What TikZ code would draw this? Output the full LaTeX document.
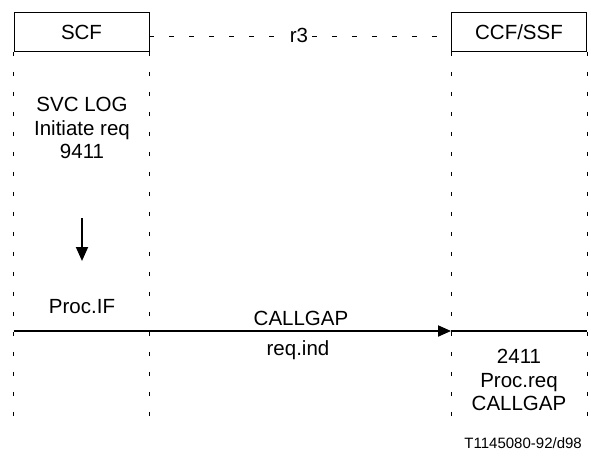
\documentclass[tikz,border=0pt]{standalone}
\usepackage{fontspec}
\setmainfont{Liberation Sans}
\usetikzlibrary{arrows.meta}
\begin{document}
\begin{tikzpicture}[x=1pt,y=-1pt,
  lbl/.style={font=\fontsize{20.5}{23.5}\selectfont, inner sep=0pt, align=center},
  fbox/.style={draw, line width=0.9pt, minimum width=135pt, minimum height=39pt, inner sep=0pt, font=\fontsize{20.5}{23.5}\selectfont},
  life/.style={line width=0.9pt, dash pattern=on 4pt off 16pt},
  r3line/.style={line width=0.6pt, dash pattern=on 5pt off 15pt},
  msg/.style={line width=1.8pt},
  foot/.style={font=\fontsize{15}{18}\selectfont, inner sep=0pt},
]
\useasboundingbox (0,0) rectangle (591,460);
\node[fbox] (scf) at (81.5,32) {SCF};
\node[fbox] (ccf) at (519,32) {CCF/SSF};
% lifeline ends
\coordinate (l1) at (scf.south west |- 0,416);
\coordinate (l2) at (scf.south east |- 0,416);
\coordinate (l3) at (ccf.south west |- 0,416);
\coordinate (l4) at (ccf.south east |- 0,416);
\draw[life] (scf.south west) -- (l1);
\draw[life] (scf.south east) -- (l2);
\draw[life] (ccf.south west) -- (l3);
\draw[life] (ccf.south east) -- (l4);
% r3 interface
\node[lbl, anchor=base, inner xsep=4pt] (r3) at (299,43) {r3};
\coordinate (r3a) at (scf.east |- 0,36);
\coordinate (r3b) at (ccf.west |- 0,36);
\draw[r3line] (r3a) -- (r3.west |- 0,36);
\draw[r3line] (r3.east |- 0,36) -- (r3b);
% SCF texts
\node[lbl] (svc) at (82,128) {SVC LOG\\Initiate req\\9411};
\coordinate (d1) at (82,218);
\coordinate (d2) at (82,261);
\draw[msg, -{Triangle[length=14pt,width=12pt]}] (d1) -- (d2);
\node[lbl, anchor=base] (procif) at (82,313) {Proc.IF};
% message
\coordinate (m1) at (scf.west |- 0,331);
\coordinate (m2) at (ccf.west |- 0,331);
\coordinate (m3) at (ccf.east |- 0,331);
\draw[msg, -{Triangle[length=13pt,width=11pt]}] (m1) -- (m2);
\draw[msg] (m2) -- (m3);
\node[lbl, anchor=base] (cg) at (301,325) {CALLGAP};
\node[lbl, anchor=base] (ri) at (298,355) {req.ind};
% CCF/SSF texts
\node[lbl] (proc) at (519,380) {2411\\Proc.req\\CALLGAP};
\node[foot, anchor=base east] (ref) at (582,448) {T1145080-92/d98};
\end{tikzpicture}
\end{document}
